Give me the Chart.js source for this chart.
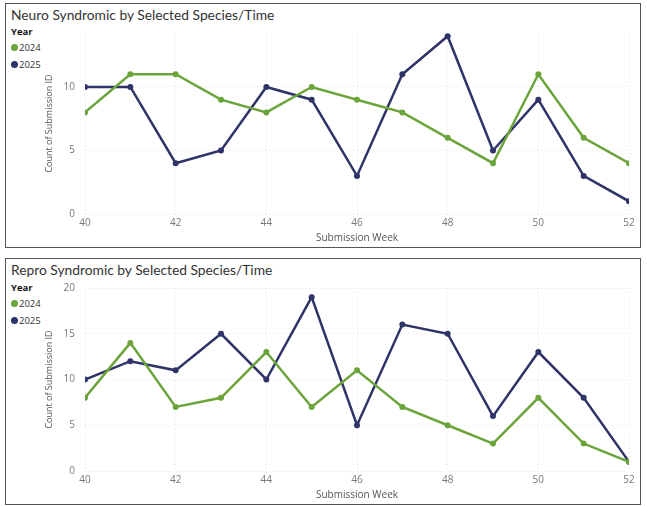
<!DOCTYPE html>
<html>
<head>
<meta charset="utf-8">
<script src="https://cdn.jsdelivr.net/npm/chart.js@4.4.1/dist/chart.umd.min.js"></script>
<style>
  body { margin: 0; background: #fff; font-family: "Open Sans", "Noto Sans", sans-serif; }
  .panel { position: absolute; left: 5px; width: 636px; border: 1px solid #555; box-sizing: border-box; background: #fff; }
  .title { position: absolute; left: 5px; top: 0px; font-family: Lato, sans-serif; font-size: 13.8px; line-height: 21px; color: #333; white-space: nowrap; }
  .legend { position: absolute; left: 5px; font-size: 9.5px; color: #333; line-height: 12px; }
  .legend .head { font-weight: 700; color: #111; height: 13px; }
  .legend .item { display: flex; align-items: center; gap: 1px; height: 17px; }
  .legend .dot { width: 7px; height: 7px; border-radius: 50%; }
  .holder { position: absolute; left: 0; }
</style>
</head>
<body>
<div class="panel" id="p1" style="top:3px;height:245px;">
  <div class="title">Neuro Syndromic by Selected Species/Time</div>
  <div class="legend" id="lg1" style="top:22px;"></div>
  <div class="holder" style="top:13px;width:634px;height:228px;"><canvas id="c1"></canvas></div>
</div>
<div class="panel" id="p2" style="top:258px;height:247px;">
  <div class="title">Repro Syndromic by Selected Species/Time</div>
  <div class="legend" id="lg2" style="top:23px;"></div>
  <div class="holder" style="top:13px;width:634px;height:230px;"><canvas id="c2"></canvas></div>
</div>
<script>
const weeks = [40, 41, 42, 43, 44, 45, 46, 47, 48, 49, 50, 51, 52];
const years = ['2024', '2025'];
const neuro2024 = [8, 11, 11, 9, 8, 10, 9, 8, 6, 4, 11, 6, 4];
const neuro2025 = [10, 10, 4, 5, 10, 9, 3, 11, 14, 5, 9, 3, 1];
const repro2024 = [8, 14, 7, 8, 13, 7, 11, 7, 5, 3, 8, 3, 1];
const repro2025 = [10, 12, 11, 15, 10, 19, 5, 16, 15, 6, 13, 8, 1];

const COLORS = ['#6AA43A', '#2E3368'];

function legend(id) {
    let html = '<div class="head">Year</div>';
    years.forEach((y, i) => {
        html += `<div class="item"><div class="dot" style="background:${COLORS[i]}"></div><span>${y}</span></div>`;
    });
    document.getElementById(id).innerHTML = html;
}

function makeChart(canvasId, seriesList, yMax) {
    const datasets = seriesList.map((vals, i) => ({
        label: years[i],
        data: weeks.map((w, j) => ({ x: w, y: vals[j] })),
        borderColor: COLORS[i],
        backgroundColor: COLORS[i],
        borderWidth: 2.5,
        pointRadius: 3,
        pointBorderWidth: 0,
        pointHoverRadius: 3,
        tension: 0,
    }));
    // faint dotted grid, like the original
    const grid = { color: '#e2e2e2', lineWidth: 1, tickLength: 0, drawTicks: false };
    new Chart(document.getElementById(canvasId), {
        type: 'line',
        data: { datasets },
        options: {
            responsive: true,
            maintainAspectRatio: false,
            animation: false,
            layout: { padding: { left: 38, right: 11, top: 0, bottom: 0 } },
            plugins: { legend: { display: false }, tooltip: { enabled: false } },
            scales: {
                x: {
                    type: 'linear',
                    min: 40, max: 52,
                    border: { display: false, dash: [1, 3] },
                    grid: grid,
                    ticks: { stepSize: 2, color: '#777', font: { size: 10, family: 'Open Sans' }, padding: 3 },
                    title: { display: true, text: 'Submission Week', color: '#555', font: { size: 10, family: 'Open Sans' }, padding: { top: 0, bottom: 1 } },
                },
                y: {
                    min: 0, max: yMax,
                    border: { display: false, dash: [1, 3] },
                    grid: grid,
                    afterFit(scale) { scale.width = 41; },
                    ticks: { stepSize: 5, includeBounds: false, color: '#777', font: { size: 10, family: 'Open Sans' }, padding: 10 },
                    title: { display: true, text: 'Count of Submission ID', color: '#555', font: { size: 9, family: 'Open Sans' }, padding: 0 },
                },
            },
        },
    });
}

legend('lg1');
legend('lg2');
makeChart('c1', [neuro2024, neuro2025], 14.25);
makeChart('c2', [repro2024, repro2025], 20);
</script>
</body>
</html>
